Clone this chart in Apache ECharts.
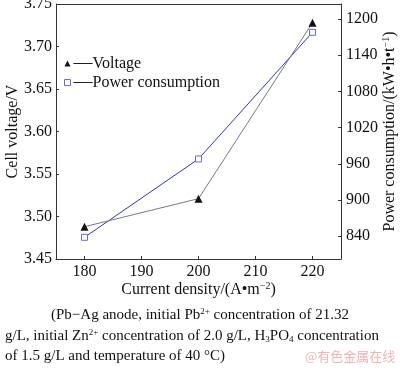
<!DOCTYPE html>
<html><head><meta charset="utf-8">
<script src="https://cdn.jsdelivr.net/npm/echarts@6/dist/echarts.min.js"></script>
<style>html,body{margin:0;padding:0;background:#fff}#c{width:400px;height:370px}</style>
</head><body><div id="c"></div>
<script>
const categories = [180, 200, 220];
const voltage = [3.488, 3.521, 3.728];
const power = [838, 968, 1178];
const leftTicks = [3.45, 3.50, 3.55, 3.60, 3.65, 3.70, 3.75];
const rightTicks = [840, 900, 960, 1020, 1080, 1140, 1200];
const xTicks = [180, 190, 200, 210, 220];

const F = 'Liberation Serif, Times New Roman, serif';
const chart = echarts.init(document.getElementById('c'), null, {renderer: 'canvas'});
const axisLine = {show: true, lineStyle: {color: '#333', width: 1}};
chart.setOption({
  animation: false,
  backgroundColor: '#fff',
  grid: {left: 56, right: 59, top: 4, bottom: 111, show: false, containLabel: false, outerBoundsMode: 'none'},
  legend: {
    orient: 'vertical', left: 59, top: 49, itemGap: 0,
    itemWidth: 6, itemHeight: 6,
    textStyle: {fontFamily: F, fontSize: 16, color: '#111', padding: [0, 0, 0, -2],
      rich: {d: {fontFamily: F, fontSize: 19, color: '#111'}}},
    formatter: n => '{d|\u2014}' + n,
    data: [
      {name: 'Voltage', icon: 'triangle', itemStyle: {color: '#111'}},
      {name: 'Power consumption', icon: 'rect', itemStyle: {color: '#fff', borderColor: '#6a6ad8', borderWidth: 1}}
    ]
  },
  xAxis: {
    type: 'value', min: 175, max: 225,
    name: 'Current density/(A\u2022m{sup|\u22122})', nameLocation: 'middle', nameGap: 22, nameMoveOverlap: false,
    nameTextStyle: {fontFamily: F, fontSize: 16, color: '#111',
      rich: {sup: {fontFamily: F, fontSize: 10, verticalAlign: 'top', padding: [0,0,8,0], color: '#111'}}},
    axisLine: {show: true, onZero: false, lineStyle: {color: '#333'}},
    axisTick: {show: true, inside: true, length: 3, customValues: xTicks, lineStyle: {color: '#333'}},
    axisLabel: {customValues: xTicks, fontFamily: F, fontSize: 16, color: '#111', margin: 5},
    splitLine: {show: false}
  },
  yAxis: [{
    type: 'value', min: 3.45, max: 3.75, position: 'left',
    name: 'Cell voltage/V', nameLocation: 'middle', nameGap: 35, nameMoveOverlap: false,
    nameTextStyle: {fontFamily: F, fontSize: 16, color: '#111'},
    axisLine: axisLine,
    axisTick: {show: true, inside: true, length: 3, customValues: leftTicks, lineStyle: {color: '#333'}},
    axisLabel: {customValues: leftTicks, formatter: v => v.toFixed(2), fontFamily: F, fontSize: 16, color: '#111', margin: 4},
    splitLine: {show: false}
  }, {
    type: 'value', min: 802, max: 1225, position: 'right',
    name: 'Power consumption/(kW\u2022h\u2022t{sup|\u22121})', nameLocation: 'middle', nameGap: 40, nameRotate: 90, nameMoveOverlap: false,
    nameTextStyle: {fontFamily: F, fontSize: 16, color: '#111',
      rich: {sup: {fontFamily: F, fontSize: 10, verticalAlign: 'top', padding: [0,0,8,0], color: '#111'}}},
    axisLine: axisLine,
    axisTick: {show: true, inside: true, length: 3, customValues: rightTicks, lineStyle: {color: '#333'}},
    axisLabel: {customValues: rightTicks, formatter: v => String(v), fontFamily: F, fontSize: 16, color: '#111', margin: 5},
    splitLine: {show: false}
  }],
  series: [{
    name: 'Voltage', type: 'line', yAxisIndex: 0,
    data: categories.map((c, i) => [c, voltage[i]]),
    symbol: 'triangle', symbolSize: 8,
    itemStyle: {color: '#111'},
    lineStyle: {color: '#7a7a7a', width: 1}, z: 3
  }, {
    name: 'Power consumption', type: 'line', yAxisIndex: 1,
    data: categories.map((c, i) => [c, power[i]]),
    symbol: 'rect', symbolSize: 6,
    itemStyle: {color: '#fff', borderColor: '#6a6ad8', borderWidth: 1},
    lineStyle: {color: '#3232c4', width: 1}, z: 2
  }],
  graphic: [
    {type: 'line', shape: {x1: 56, y1: 4.5, x2: 341, y2: 4.5}, style: {stroke: '#333', lineWidth: 1}},
    {type: 'text', left: 'center', top: 307, style: {
      text: '(Pb\u2212Ag anode, initial Pb{sup|2+} concentration of 21.32',
      font: '15px ' + F, fill: '#111',
      rich: {sup: {font: '9px ' + F, verticalAlign: 'top', padding: [0,0,7,0], fill: '#111'}}}},
    {type: 'text', left: 5, top: 328, style: {
      text: 'g/L, initial Zn{sup|2+} concentration of 2.0 g/L, H{sub|3}PO{sub|4} concentration',
      font: '15px ' + F, fill: '#111',
      rich: {sup: {font: '9px ' + F, verticalAlign: 'top', padding: [0,0,7,0], fill: '#111'},
             sub: {font: '9px ' + F, verticalAlign: 'bottom', padding: [6,0,0,0], fill: '#111'}}}},
    {type: 'text', left: 5, top: 349, style: {
      text: 'of 1.5 g/L and temperature of 40 \u00b0C)', font: '15px ' + F, fill: '#111'}},
    {type: 'text', left: 305, top: 350, style: {
      text: '@有色金属在线', font: '13px "Noto Sans CJK SC", sans-serif', fill: '#f0b4b4'}}
  ]
});
</script></body></html>
